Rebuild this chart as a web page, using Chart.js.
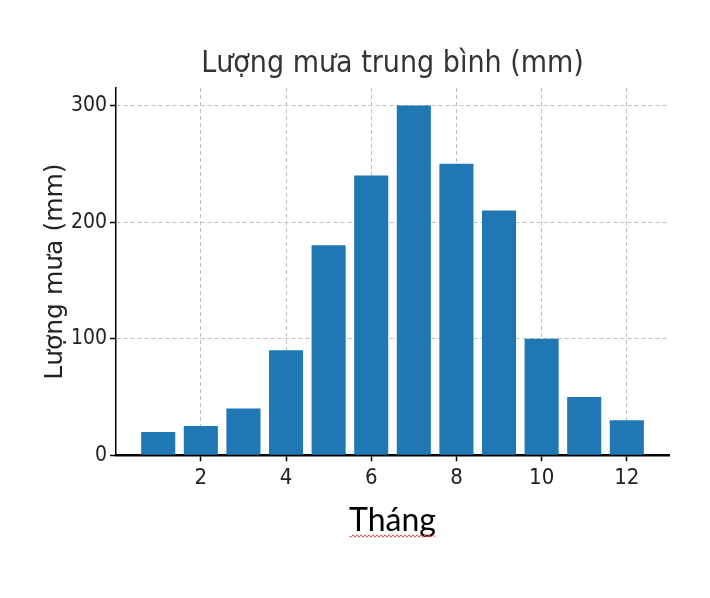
<!DOCTYPE html>
<html>
<head>
<meta charset="utf-8">
<script src="https://cdn.jsdelivr.net/npm/chart.js@4.4.0/dist/chart.umd.min.js"></script>
<style>
html, body { margin: 0; padding: 0; background: #fff; overflow: hidden; }
#wrap { width: 710px; height: 598px; }
</style>
</head>
<body>
<div id="wrap"><canvas id="rainChart"></canvas></div>
<script>
const months = [1, 2, 3, 4, 5, 6, 7, 8, 9, 10, 11, 12];
const rainfall = [20, 25, 40, 90, 180, 240, 300, 250, 210, 100, 50, 30];
const xTicks = [2, 4, 6, 8, 10, 12];
const yTicks = [0, 100, 200, 300];
const chartTitle = 'Lượng mưa trung bình (mm)';
const xLabel = 'Tháng';
const yLabel = 'Lượng mưa (mm)';

const narrow = "'DejaVu Sans Condensed', 'DejaVu Sans', sans-serif";

// red wavy spellcheck line under the x label
const squiggle = {
    id: 'squiggle',
    afterDraw(chart) {
        const ctx = chart.ctx;
        const sc = chart.scales.x;
        const t = sc.options.title;
        ctx.save();
        ctx.font = t.font.size + 'px ' + t.font.family;
        const w = ctx.measureText(t.text).width;
        const cx = (chart.chartArea.left + chart.chartArea.right) / 2;
        const y = sc.bottom - t.padding.bottom - 4;
        ctx.strokeStyle = '#e05050';
        ctx.lineWidth = 1;
        ctx.beginPath();
        let up = true;
        for (let x = cx - w / 2; x <= cx + w / 2; x += 2) {
            if (x === cx - w / 2) ctx.moveTo(x, y);
            else ctx.lineTo(x, up ? y - 1.2 : y + 1.2);
            up = !up;
        }
        ctx.stroke();
        ctx.restore();
    }
};

const gridOpts = {
    color: '#c0c0c0',
    lineWidth: 1,
    drawTicks: true,
    tickLength: 6,
    tickColor: '#000',
    tickWidth: 1.5,
    tickBorderDash: [1, 0]
};

const ctx = document.getElementById('rainChart').getContext('2d');
new Chart(ctx, {
    type: 'bar',
    data: {
        datasets: [{
            data: months.map((m, i) => ({ x: m, y: rainfall[i] })),
            backgroundColor: '#1f77b4',
            borderWidth: 0,
            barPercentage: 0.8,
            categoryPercentage: 1.0
        }]
    },
    options: {
        responsive: true,
        maintainAspectRatio: false,
        animation: false,
        layout: { padding: { left: 40, right: 41, top: 44, bottom: 40 } },
        plugins: {
            legend: { display: false },
            tooltip: { enabled: false },
            title: {
                display: true,
                text: chartTitle,
                fullSize: false,
                color: '#333',
                font: { family: narrow, size: 30, weight: 'normal' },
                padding: { top: 2, bottom: 6 }
            }
        },
        scales: {
            x: {
                type: 'linear',
                min: 0.01,
                max: 12.99,
                offset: false,
                z: 1,
                afterBuildTicks: axis => { axis.ticks = xTicks.map(v => ({ value: v })); },
                ticks: {
                    color: '#222',
                    font: { family: narrow, size: 22 },
                    padding: 4,
                    maxRotation: 0
                },
                grid: Object.assign({ offset: false }, gridOpts),
                border: { color: '#000', width: 2.5, dash: [4, 3] },
                title: {
                    display: true,
                    text: xLabel,
                    color: '#000',
                    font: { family: 'Lato, sans-serif', size: 32 },
                    padding: { top: 6, bottom: 18 }
                }
            },
            y: {
                min: 0,
                max: 315,
                z: 1,
                afterBuildTicks: axis => { axis.ticks = yTicks.map(v => ({ value: v })); },
                ticks: {
                    color: '#222',
                    font: { family: narrow, size: 21 },
                    padding: 3
                },
                grid: gridOpts,
                border: { color: '#000', width: 1.5, dash: [4, 3] },
                title: {
                    display: true,
                    text: yLabel,
                    color: '#222',
                    font: { family: "'DejaVu Sans', sans-serif", size: 25 },
                    padding: { top: 0, bottom: -2 }
                }
            }
        }
    },
    plugins: [squiggle]
});
</script>
</body>
</html>
